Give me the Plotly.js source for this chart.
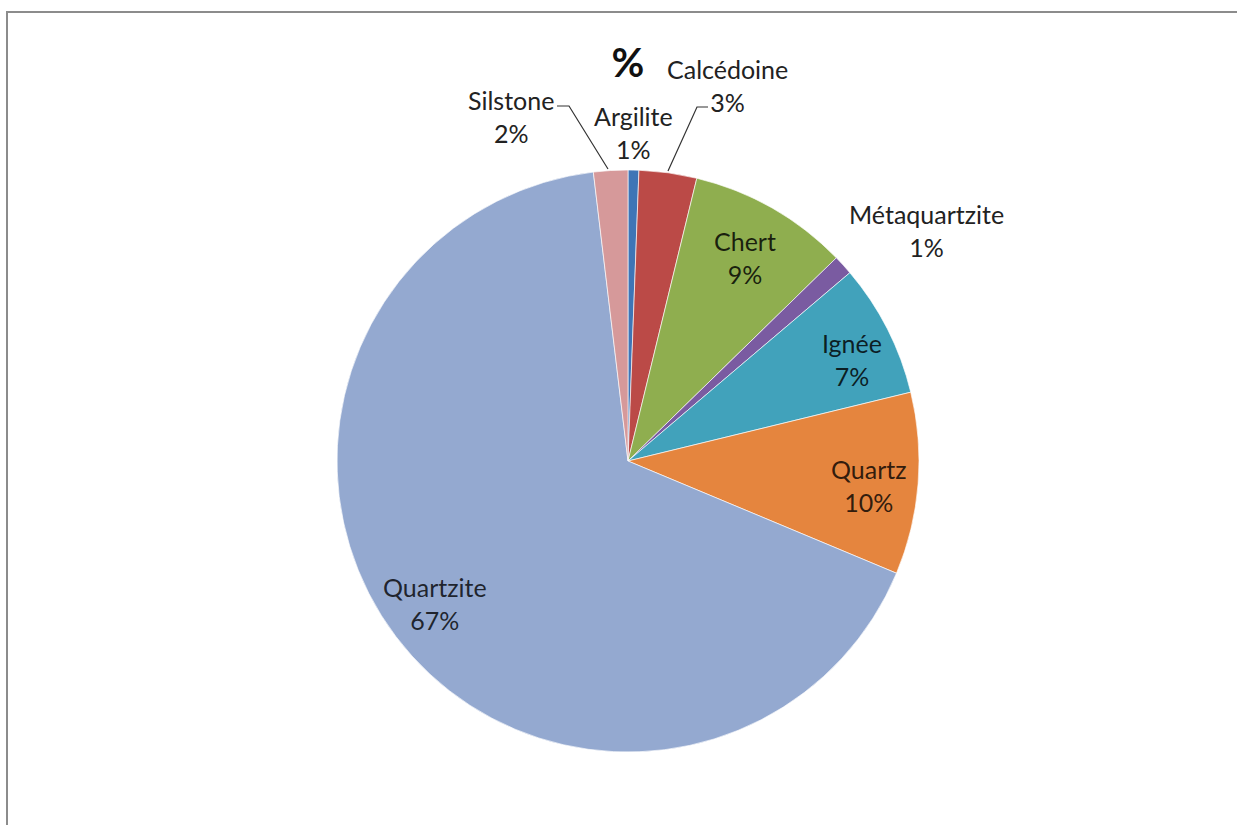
<!DOCTYPE html>
<html>
<head>
<meta charset="utf-8">
<script src="https://cdn.plot.ly/plotly-3.0.1.min.js"></script>
<style>
html,body{margin:0;padding:0;background:#fff;overflow:hidden;}
#chart{width:1237px;height:825px;}
</style>
</head>
<body>
<div id="chart"></div>
<script>
// Data (clockwise from 12 o'clock)
const labels = ["Argilite", "Calcédoine", "Chert", "Métaquartzite", "Ignée", "Quartz", "Quartzite", "Silstone"];
const values = [0.6, 3.2, 8.9, 1.1, 7.4, 10.1, 66.8, 1.9];
const colors = ["#3f75b6", "#bb4a47", "#8fae4f", "#7a5ba1", "#41a2bb", "#e5853e", "#94a9d0", "#d6999a"];
const chartTitle = "%";

const W = 1237, H = 825;
const px = x => x / W;
const py = y => 1 - y / H;

const total = values.reduce((a, b) => a + b, 0);
const pct = values.map(v => Math.round(v / total * 100) + "%");

// label positions (pixel centers of two-line label) and text colors
const labelPos = {
  "Argilite": [633, 132, "#222"],
  "Calcédoine": [727, 85, "#222"],
  "Chert": [745, 257, "rgba(0,0,0,0.82)"],
  "Métaquartzite": [926, 230, "#222"],
  "Ignée": [852, 360, "rgba(0,0,0,0.82)"],
  "Quartz": [869, 485, "rgba(0,0,0,0.8)"],
  "Quartzite": [435, 603, "rgba(0,0,0,0.8)"],
  "Silstone": [511, 116, "#222"]
};

const annotations = labels.map((l, i) => ({
  xref: "paper", yref: "paper",
  x: px(labelPos[l][0]), y: py(labelPos[l][1]),
  xanchor: "center", yanchor: "middle",
  text: l + "<br>" + pct[i],
  showarrow: false,
  align: "center",
  font: {family: "Lato, 'Open Sans', sans-serif", size: 25, color: labelPos[l][2]}
}));

// leader lines and frame
function path(pts) {
  return "M " + pts.map(p => px(p[0]) + "," + py(p[1])).join(" L ");
}
const shapes = [
  {type: "path", xref: "paper", yref: "paper", path: path([[557, 106], [569, 106], [608, 169]]), line: {color: "#333", width: 1.2}},
  {type: "path", xref: "paper", yref: "paper", path: path([[708, 107], [697, 107], [668, 171]]), line: {color: "#333", width: 1.2}},
  {type: "path", xref: "paper", yref: "paper", path: path([[7, 830], [7, 12], [1240, 12]]), line: {color: "#8c8c8c", width: 2}}
];

const cx = 628, cy = 461, R = 291;
const data = [{
  type: "pie",
  labels: labels,
  values: values,
  sort: false,
  direction: "clockwise",
  rotation: 0,
  textinfo: "none",
  hoverinfo: "label+percent",
  marker: {colors: colors, line: {color: "rgba(255,255,255,0.8)", width: 0.8}},
  domain: {x: [px(cx - R), px(cx + R)], y: [py(cy + R), py(cy - R)]},
  showlegend: false
}];

const layout = {
  width: W, height: H,
  margin: {l: 0, r: 0, t: 0, b: 0},
  paper_bgcolor: "#ffffff",
  showlegend: false,
  title: {
    text: "<b>" + chartTitle + "</b>",
    x: px(628), xanchor: "center",
    y: py(63), yanchor: "middle", yref: "paper",
    font: {family: "Lato, 'Open Sans', sans-serif", size: 40, color: "#111"}
  },
  annotations: annotations,
  shapes: shapes
};

Plotly.newPlot("chart", data, layout, {displayModeBar: false, staticPlot: true});
</script>
</body>
</html>
